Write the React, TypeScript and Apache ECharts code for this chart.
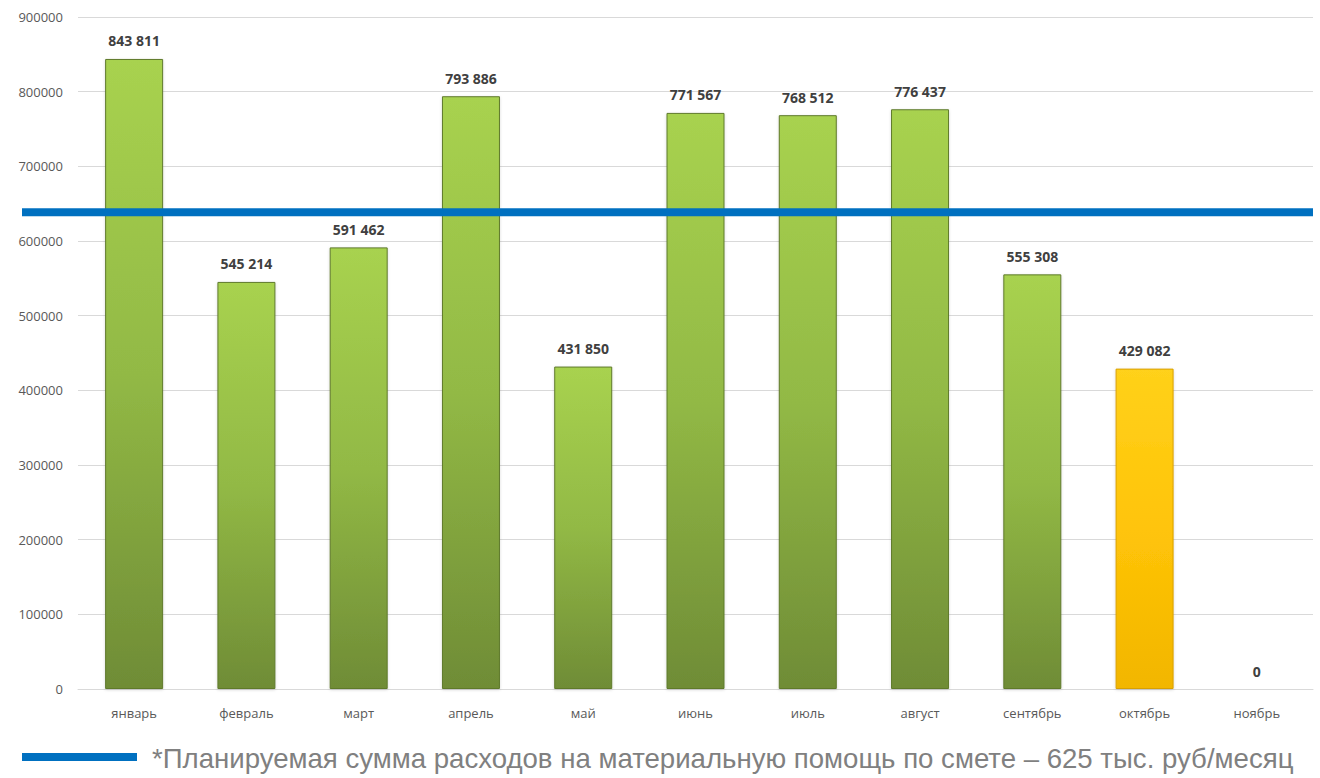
import React, { useEffect, useRef } from "react";
import * as echarts from "echarts";

const months = ["январь", "февраль", "март", "апрель", "май", "июнь", "июль", "август", "сентябрь", "октябрь", "ноябрь"];
const expenses = [843811, 545214, 591462, 793886, 431850, 771567, 768512, 776437, 555308, 429082, 0];
const highlightIndex = 9;
const planLineLevel = 638500;
const noteText = "*Планируемая сумма расходов на материальную помощь по смете – 625 тыс. руб/месяц";

const fmt = (v: number) => String(v).replace(/\B(?=(\d{3})+(?!\d))/g, " ");

const greenFill = new echarts.graphic.LinearGradient(0, 0, 0, 1, [
  { offset: 0, color: "#a8d24f" },
  { offset: 0.5, color: "#92b945" },
  { offset: 1, color: "#6f8c36" },
]);
const yellowFill = new echarts.graphic.LinearGradient(0, 0, 0, 1, [
  { offset: 0, color: "#ffd11a" },
  { offset: 0.5, color: "#ffc408" },
  { offset: 1, color: "#f2b600" },
]);

export default function App() {
  const ref = useRef<HTMLDivElement>(null);
  useEffect(() => {
    if (!ref.current) return;
    const chart = echarts.init(ref.current, undefined, { renderer: "svg" });
    const option: any = {
      animation: false,
      backgroundColor: "#ffffff",
      grid: { left: 78, right: 7, top: 17, bottom: 89, containLabel: false },
      xAxis: {
        type: "category",
        data: months,
        axisLine: { show: true, lineStyle: { color: "#d9d9d9", width: 1 } },
        axisTick: { show: false },
        axisLabel: { color: "#595959", fontSize: 13, fontFamily: "Open Sans", margin: 17 },
      },
      yAxis: {
        type: "value",
        min: 0,
        max: 900000,
        interval: 100000,
        axisLine: { show: false },
        axisTick: { show: false },
        splitLine: { lineStyle: { color: "#d9d9d9", width: 1 } },
        axisLabel: {
          color: "#595959",
          fontSize: 13,
          fontFamily: "Open Sans",
          margin: 15,
          formatter: (v: number) => String(v),
        },
      },
      series: [
        {
          type: "bar",
          barWidth: 58,
          data: expenses.map((v, i) => ({
            value: v,
            itemStyle: {
              color: i === highlightIndex ? yellowFill : greenFill,
              borderColor: i === highlightIndex ? "#d9a000" : "#5f7a2c",
              borderWidth: v === 0 ? 0 : 1,
              shadowColor: "rgba(0,0,0,0.15)",
              shadowBlur: 3,
              shadowOffsetY: 1,
            },
          })),
          label: {
            show: true,
            position: "top",
            distance: 11,
            color: "#404040",
            fontWeight: "bold",
            fontSize: 14,
            fontFamily: "Open Sans",
            formatter: (p: any) => fmt(p.value),
          },
        },
      ],
    };
    chart.setOption(option);
    const yPlan = chart.convertToPixel({ yAxisIndex: 0 }, planLineLevel) as number;
    chart.setOption({
      graphic: [
        {
          type: "line",
          shape: { x1: 22, y1: yPlan, x2: 1313, y2: yPlan },
          style: { stroke: "#0070c0", lineWidth: 8 },
          z: 100,
        },
        {
          type: "line",
          shape: { x1: 22, y1: 757, x2: 137, y2: 757 },
          style: { stroke: "#0070c0", lineWidth: 8 },
        },
        {
          type: "text",
          x: 152,
          y: 758,
          style: {
            text: noteText,
            fill: "#808080",
            fontSize: 27.6,
            fontFamily: "Liberation Sans",
            verticalAlign: "middle",
          },
        },
      ],
    });
    return () => chart.dispose();
  }, []);
  return <div ref={ref} style={{ position: "absolute", left: 0, top: 0, width: 1320, height: 778 }} />;
}
